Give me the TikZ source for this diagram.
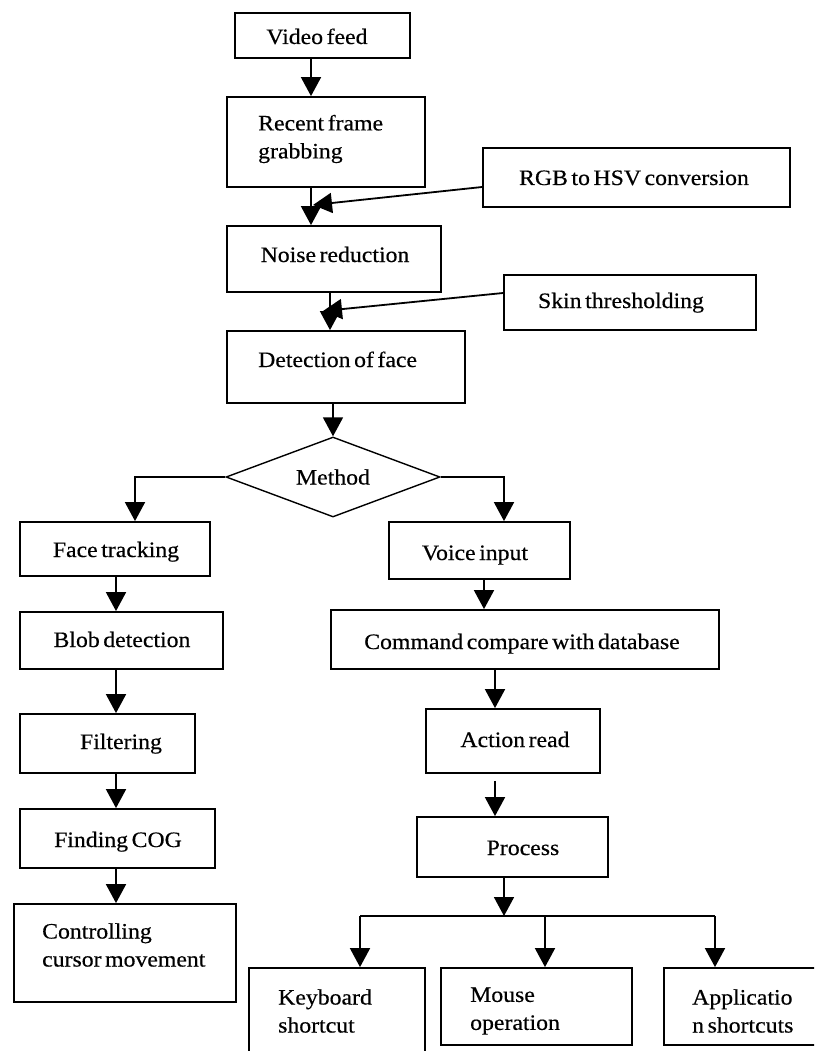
\documentclass[tikz,border=0pt]{standalone}
\usepackage{fontspec}
\setmainfont{Liberation Serif}[FakeStretch=1.08, WordSpace=0.6, FakeBold=0.4]
\usetikzlibrary{arrows.meta,shapes.geometric,calc}
\tikzset{
  box/.style={draw, line width=1.8pt, rectangle, inner sep=0pt},
  txt/.style={inner sep=0pt, align=left, font=\fontsize{22}{28}\selectfont},
  stxt/.style={txt, text height=15pt, text depth=5pt},
  conn/.style={line width=1.8pt},
  arr/.style={conn, -{Triangle[length=19pt,width=20pt]}},
}
\begin{document}
\begin{tikzpicture}[x=1pt,y=-1pt]
\useasboundingbox (0,0) rectangle (814,1051);
\clip (0,0) rectangle (814,1051);
\fill[white] (0,0) rectangle (814,1051);

% boxes
\node[box, minimum width=175pt, minimum height=45pt] (vf) at (322.5,35.5) {};
\node[box, minimum width=198pt, minimum height=90pt] (rf) at (326,142) {};
\node[box, minimum width=307pt, minimum height=59pt] (rgb) at (636.5,177.5) {};
\node[box, minimum width=214pt, minimum height=66pt] (nr) at (334,259) {};
\node[box, minimum width=252pt, minimum height=55pt] (sk) at (630,302.5) {};
\node[box, minimum width=238pt, minimum height=72pt] (df) at (346,367) {};
\node[draw, line width=1.4pt, diamond, aspect=2.675, inner sep=0pt,
      minimum width=214pt, minimum height=80pt,
      font=\fontsize{22}{28}\selectfont] (m) at (333,477) {Method};
\node[box, minimum width=190pt, minimum height=54pt] (ft) at (115,549) {};
\node[box, minimum width=181pt, minimum height=57pt] (vi) at (479.5,550.5) {};
\node[box, minimum width=203pt, minimum height=57pt] (bd) at (121.5,640.5) {};
\node[box, minimum width=388pt, minimum height=59pt] (cc) at (525,639.5) {};
\node[box, minimum width=175pt, minimum height=59pt] (fi) at (107.5,743.5) {};
\node[box, minimum width=174pt, minimum height=64pt] (ar) at (513,741) {};
\node[box, minimum width=195pt, minimum height=59pt] (cog) at (117.5,838.5) {};
\node[box, minimum width=191pt, minimum height=60pt] (pr) at (512.5,847) {};
\node[box, minimum width=222pt, minimum height=98pt] (ctrl) at (125,953) {};
\node[box, minimum width=176pt, minimum height=107pt] (kb) at (337,1021.5) {};
\node[box, minimum width=191pt, minimum height=77pt] (mo) at (536.5,1006.5) {};
\node[box, minimum width=176pt, minimum height=77pt] (ap) at (752,1006.5) {};

% texts
\node[stxt] (vf-t) at (317,39) {Video feed};
\node[txt, anchor=west] (rf-t) at (258,139) {Recent frame\\grabbing};
\node[stxt] (rgb-t) at (634,180) {RGB to HSV conversion};
\node[stxt] (nr-t) at (335,257) {Noise reduction};
\node[stxt] (sk-t) at (621,303) {Skin thresholding};
\node[stxt, anchor=west] (df-t) at (258,362) {Detection of face};
\node[stxt] (ft-t) at (116,552) {Face tracking};
\node[stxt] (vi-t) at (475,555) {Voice input};
\node[stxt] (bd-t) at (122,642) {Blob detection};
\node[stxt] (cc-t) at (522,644) {Command compare with database};
\node[stxt] (fi-t) at (121,744) {Filtering};
\node[stxt] (ar-t) at (515,742) {Action read};
\node[stxt] (cog-t) at (118,842) {Finding COG};
\node[stxt] (pr-t) at (523,850) {Process};
\node[txt, anchor=west] (ctrl-t) at (42,945) {Controlling\\cursor movement};
\node[txt, anchor=west] (kb-t) at (278,1011) {Keyboard\\shortcut};
\node[txt, anchor=west] (mo-t) at (470,1011) {Mouse\\operation};
\node[txt, anchor=west] (ap-t) at (692,1011) {Applicatio\\n shortcuts};

% helper coordinates
\coordinate (xa) at (311,0);
\coordinate (xb) at (330,0);
\coordinate (xc) at (135,0);
\coordinate (xd) at (504,0);
\coordinate (xe) at (116,0);
\coordinate (xf) at (484,0);
\coordinate (xg) at (495,0);
\coordinate (t1) at (313,205);
\coordinate (t2) at (323,311);
\coordinate (b0) at (504,916);
\coordinate (bL) at (360,916);
\coordinate (bM) at (545,916);
\coordinate (bR) at (715,916);

% connectors
\draw[arr] (vf.south -| xa) -- (rf.north -| xa);
\draw[arr] (rf.south -| xa) -- (nr.north -| xa);
\draw[arr] ([yshift=-9.5pt]rgb.west) -- (t1);
\draw[arr] (nr.south -| xb) -- (df.north -| xb);
\draw[arr] ([yshift=9.5pt]sk.west) -- (t2);
\draw[arr] (df.south -| m.north) -- (m.north);
\draw[arr] (m.west) -| (ft.north -| xc);
\draw[arr] (m.east) -| (vi.north -| xd);
\draw[arr] (ft.south -| xe) -- (bd.north -| xe);
\draw[arr] (vi.south -| xf) -- (cc.north -| xf);
\draw[arr] (bd.south -| xe) -- (fi.north -| xe);
\draw[arr] (cc.south -| xg) -- (ar.north -| xg);
\draw[arr] (fi.south -| xe) -- (cog.north -| xe);
\draw[arr] ($(ar.south -| xg)+(0,7)$) -- (pr.north -| xg);
\draw[arr] (cog.south -| xe) -- (ctrl.north -| xe);
\draw[arr] (pr.south -| xd) -- (b0);
\draw[conn] (bL) -- (bR);
\draw[arr] (bL) -- (kb.north -| bL);
\draw[arr] (bM) -- (mo.north -| bM);
\draw[arr] (bR) -- (ap.north -| bR);
\end{tikzpicture}
\end{document}
